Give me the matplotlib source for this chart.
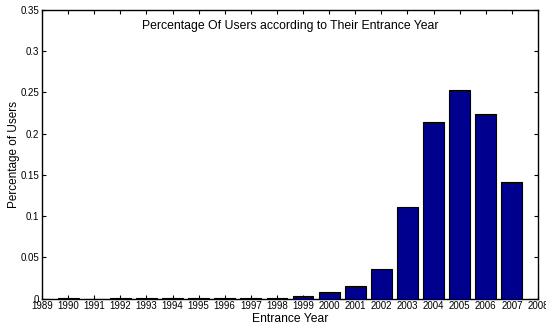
import matplotlib
matplotlib.use("Agg")
import matplotlib.pyplot as plt

# Share of users by the year they joined
years = list(range(1989, 2009))
share = [0.0002, 0.0003, 0.0002, 0.0003, 0.0004, 0.0005, 0.0012, 0.0005,
         0.0006, 0.0008, 0.0030, 0.0081, 0.0154, 0.0363, 0.1110, 0.2144,
         0.2530, 0.2240, 0.1417, 0.0]
y_ticks = [0, 0.05, 0.1, 0.15, 0.2, 0.25, 0.3, 0.35]
y_tick_labels = ["0", "0.05", "0.1", "0.15", "0.2", "0.25", "0.3", "0.35"]

plt.rcParams["font.family"] = ["Liberation Sans", "DejaVu Sans"]

fig = plt.figure(figsize=(5.46, 3.24), dpi=100)
W, H = 546, 324
left, right, top, bottom = 42, 538, 9.7, 298.7
ax = fig.add_axes([left / W, 1 - bottom / H, (right - left) / W, (bottom - top) / H])

ax.bar(years, share, width=0.8, color="#00008f", edgecolor="black", linewidth=0.8, zorder=2)

ax.set_xlim(1989, 2008)
ax.set_ylim(0, 0.35)
ax.set_xticks(years)
ax.set_xticklabels([str(y) for y in years], fontsize=7)
ax.set_yticks(y_ticks)
ax.set_yticklabels(y_tick_labels, fontsize=7)
ax.tick_params(direction="in", length=3, width=0.8, top=True, right=True, pad=2)
for s in ax.spines.values():
    s.set_linewidth(1.0)

ax.set_xlabel("Entrance Year", fontsize=8.7, labelpad=1)
ax.set_ylabel("Percentage of Users", fontsize=8.5, labelpad=0)
ax.text(0.5, 0.945, "Percentage Of Users according to Their Entrance Year",
        transform=ax.transAxes, ha="center", va="center", fontsize=8.8)

fig.savefig("out.png", dpi=100)
